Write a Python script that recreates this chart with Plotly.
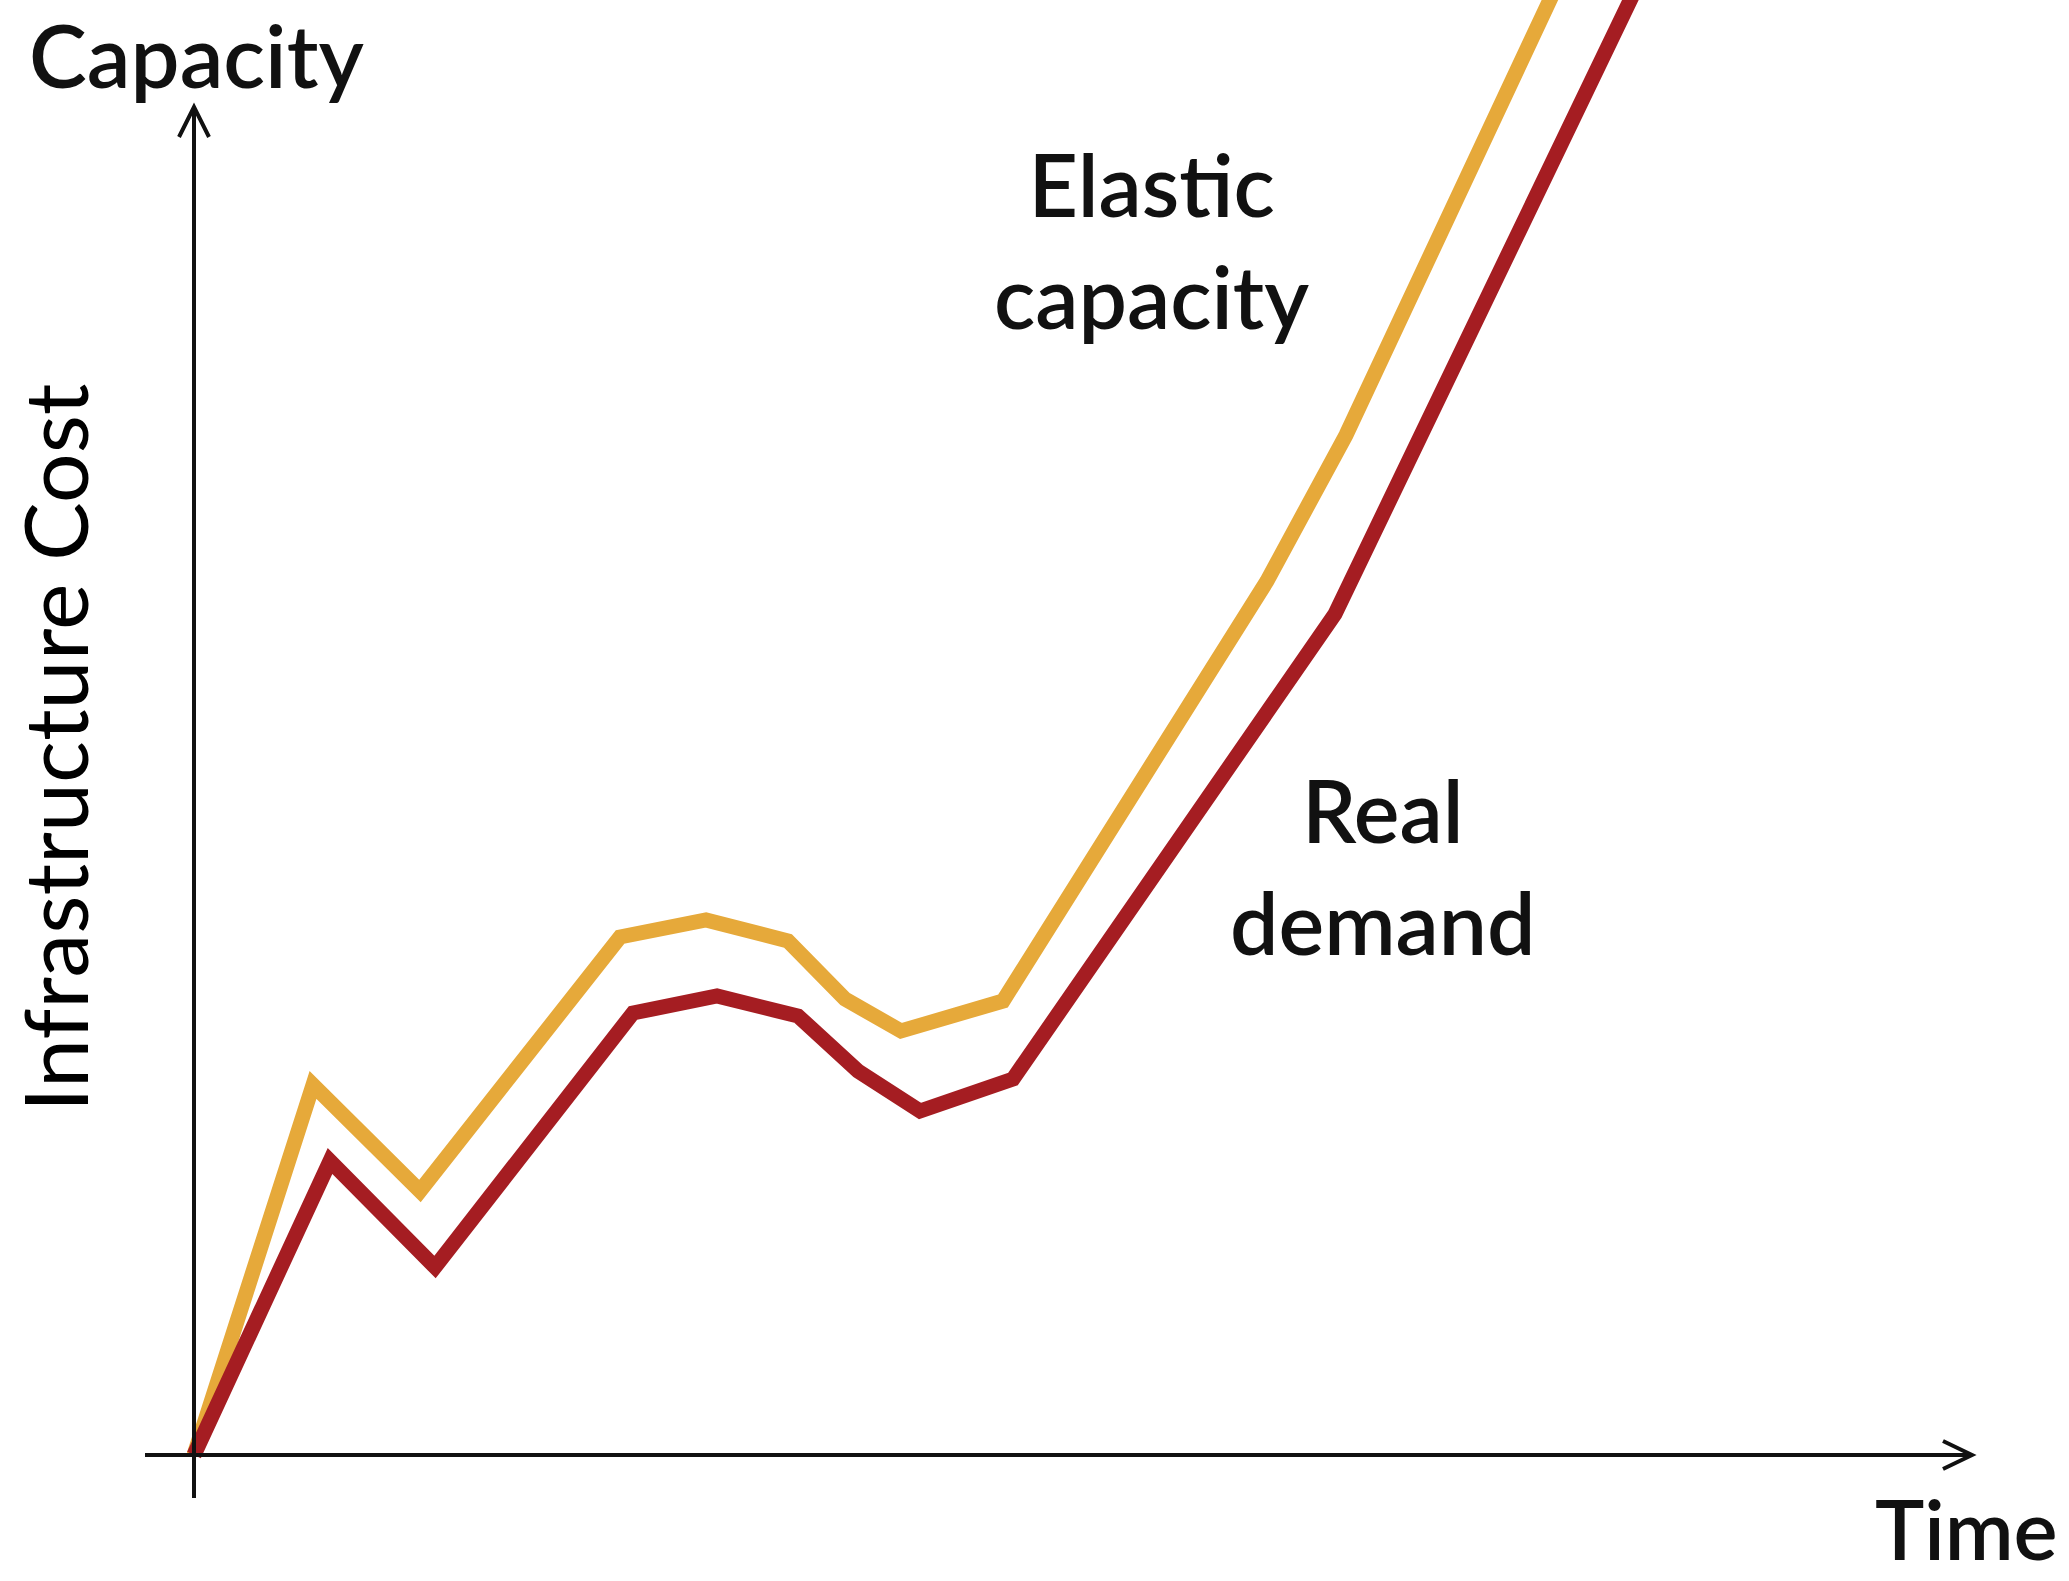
import plotly.graph_objects as go

# ---- data (time units, capacity units) ----
elastic_time = [0, 11.9, 22.6, 42.6, 51.2, 59.4, 65.1, 70.7, 80.9, 107.3, 115.2, 137.7]
elastic_cap = [0, 37.0, 26.4, 51.8, 53.5, 51.4, 45.6, 42.4, 45.4, 87.4, 102.0, 150.0]
demand_time = [0, 13.6, 24.1, 43.9, 52.3, 60.4, 66.4, 72.6, 81.9, 114.1, 145.8]
demand_cap = [0, 29.4, 18.8, 44.2, 45.9, 43.9, 38.4, 34.4, 37.6, 84.1, 150.0]

YELLOW = "#E6A93A"
RED = "#A51D22"
FONT = "Lato"

fig = go.Figure()
fig.add_trace(go.Scatter(x=elastic_time, y=elastic_cap, mode="lines",
                         line=dict(color=YELLOW, width=15), name="Elastic capacity"))
fig.add_trace(go.Scatter(x=demand_time, y=demand_cap, mode="lines",
                         line=dict(color=RED, width=15), name="Real demand"))

axis_style = dict(color="#111111", width=4)
shapes = [
    # y axis
    dict(type="line", xref="x", yref="y", x0=0, x1=0, y0=-4.3, y1=134.6, line=axis_style),
    dict(type="path", xref="x", yref="y", path="M -1.5,131.8 L 0,134.8 L 1.5,131.8", line=axis_style),
    # x axis
    dict(type="line", xref="x", yref="y", x0=-4.9, x1=177.6, y0=0, y1=0, line=axis_style),
    dict(type="path", xref="x", yref="y", path="M 174.9,1.4 L 177.8,0 L 174.9,-1.4", line=axis_style),
]

lab = dict(family=FONT, size=86, color="#111111", weight=600)
annotations = [
    dict(x=0.2, y=140.1, xref="x", yref="y", text="Capacity", showarrow=False,
         font=dict(lab, size=87), xanchor="center", yanchor="middle", height=106),
    dict(x=186.6, y=-7.3, xref="x", yref="y", text="Time", showarrow=False,
         font=dict(lab, size=83), xanchor="right", yanchor="middle", height=100),
    dict(x=95.7, y=121.6, xref="x", yref="y", text="Elastic<br>capacity", showarrow=False,
         font=lab, xanchor="center", yanchor="middle", align="center"),
    dict(x=118.9, y=59.0, xref="x", yref="y", text="Real<br>demand", showarrow=False,
         font=lab, xanchor="center", yanchor="middle", align="center"),
    dict(x=-14.0, y=70.7, xref="x", yref="y", text="Infrastructure Cost", showarrow=False,
         textangle=-90, font=dict(family=FONT, size=88, color="#000000"),
         xanchor="center", yanchor="middle"),
]

fig.update_layout(
    width=2069, height=1581,
    margin=dict(l=0, r=0, t=0, b=0),
    paper_bgcolor="white", plot_bgcolor="white",
    showlegend=False,
    shapes=shapes, annotations=annotations,
    xaxis=dict(range=[-19.4, 187.5], visible=False, fixedrange=True),
    yaxis=dict(range=[-12.6, 145.5], visible=False, fixedrange=True),
)

fig.write_html("out.html", config={"displayModeBar": False},
               post_script="document.body.style.margin='0';document.body.style.overflow='hidden';")
